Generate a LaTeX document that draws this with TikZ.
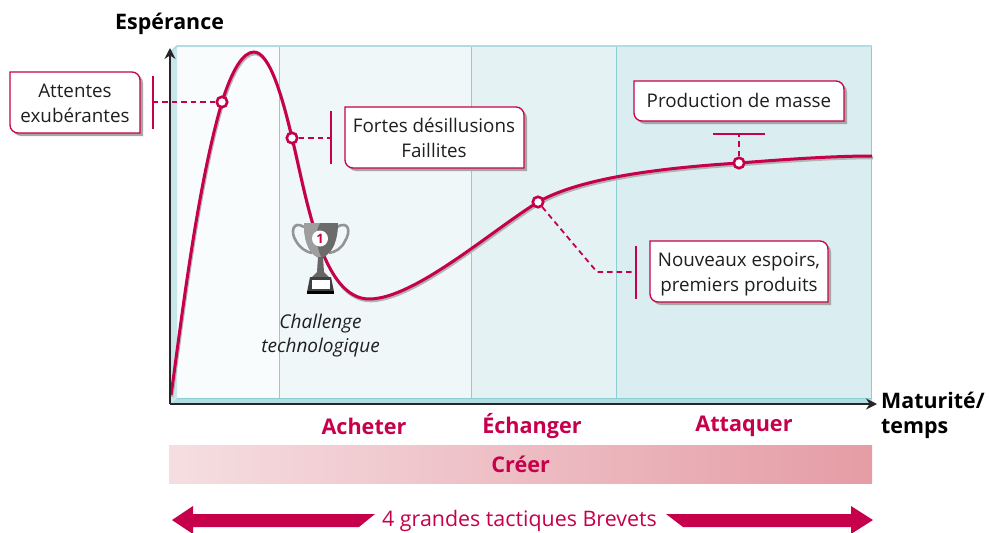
\documentclass[tikz,border=0pt]{standalone}
\usepackage{fontspec}
\setmainfont{Open Sans}
\usetikzlibrary{arrows.meta}
\definecolor{crim}{HTML}{C6004A}
\definecolor{teal1}{HTML}{8ECDD2}
\definecolor{bevL}{HTML}{C9E6EA}
\definecolor{bevB}{HTML}{B2DDE0}
\definecolor{b1}{HTML}{F8FCFD}
\definecolor{b2}{HTML}{EFF7F9}
\definecolor{b3}{HTML}{E4F2F4}
\definecolor{b4}{HTML}{DAEDF0}
\definecolor{gl}{HTML}{F5DEE1}
\definecolor{gr}{HTML}{E59CA5}
\tikzset{
 x=1pt,y=-1pt,
 txt/.style={font=\fontsize{18.8}{24.3}\selectfont,text=black!88,align=center,inner sep=0pt},
 axislabel/.style={font=\fontsize{21.4}{25}\selectfont\bfseries,text=black,align=left,inner sep=0pt},
 tactic/.style={font=\fontsize{21.6}{25}\selectfont\bfseries,text=crim,inner sep=0pt},
 tick/.style={crim,line width=1.8pt},
 leader/.style={crim,line width=1.8pt,dash pattern=on 5.5pt off 4pt},
 dot/.style={circle,draw=crim,fill=white,line width=2.6pt,minimum size=10.5pt,inner sep=0pt},
 axisline/.style={line width=1.5pt,black!85,-{Stealth[length=11pt,width=11pt]}},
 bigarrow/.style={fill=crim,draw=none},
}
\newcommand{\boxshape}[4]{% x1 y1 x2 y2 (asymmetric rounded box)
 \fill[black!35] (#1+3,#2+3) [rounded corners=8pt] -- (#3+3,#2+3) [rounded corners=0pt] -- (#3+3,#4+3) [rounded corners=8pt] -- (#1+3,#4+3) [rounded corners=0pt] -- (#1+3,#2+3) -- cycle;
 \draw[crim,line width=1.3pt,fill=white] (#1,#2) [rounded corners=0pt] -- (#3-8,#2) [rounded corners=8pt] -- (#3,#2) [rounded corners=0pt] -- (#3,#4) [rounded corners=0pt] -- (#1+8,#4) [rounded corners=8pt] -- (#1,#4) [rounded corners=0pt] -- cycle;
}
\begin{document}
\begin{tikzpicture}
\useasboundingbox (0,0) rectangle (989,533);
% bands
\fill[b1] (171,46) rectangle (280,400);
\fill[b2] (280,46) rectangle (472,400);
\fill[b3] (472,46) rectangle (617,400);
\fill[b4] (617,46) rectangle (872,400);
\fill[bevL] (171,52) -- (177,46) -- (177,398) -- (171,404) -- cycle;
\fill[bevB] (171,404) -- (177,398) -- (872,398) -- (872,404) -- cycle;
\draw[teal1,line width=0.8pt] (279.5,46) -- (279.5,398) (471.5,46) -- (471.5,398) (616.5,46) -- (616.5,398);
\draw[teal1,line width=0.8pt] (177,398) -- (871.5,398) -- (871.5,46);
\draw[bevB,line width=1.8pt] (171,52) -- (177,46) -- (872,46);
% curve
\def\curvepath{(171,395) .. controls (179,340) and (196,190) .. (222,102)
 .. controls (232,70) and (243,52) .. (254,52)
 .. controls (270,52) and (283,100) .. (292,138)
 .. controls (307,200) and (322,300) .. (370,299)
 .. controls (415,298) and (490,232) .. (538,202)
 .. controls (580,178) and (660,168) .. (739,163)
 .. controls (790,159) and (835,156) .. (872,156)}
\draw[black!30,line width=2.6pt] [shift={(1,2)}] \curvepath;
\draw[crim,line width=3pt] \curvepath;
% axes
\coordinate (org) at (170,404);
\coordinate (ytop) at (170,48);
\coordinate (xend) at (877,404);
\draw[axisline] (org) -- (ytop);
\draw[axisline] (org) -- (xend);
\node[axislabel,anchor=west] (esp) at (115,24) {Espérance};
\node[axislabel,anchor=north west,align=left] (mat) at (881,392) {Maturité/\\temps};
% points
\coordinate (t1) at (153,102);
\coordinate (t2) at (331,138);
\coordinate (t3) at (636,272);
\coordinate (t4) at (739,134);
\coordinate (k3) at (597,272);
\node[dot] (p1) at (222,102) {};
\node[dot] (p2) at (292,138) {};
\node[dot] (p3) at (538,202) {};
\node[dot] (p4) at (739,163) {};
\draw[tick] (153,76) -- (153,129);
\draw[tick] (331,111) -- (331,164);
\draw[tick] (636,246) -- (636,299);
\draw[tick] (713,134) -- (765,134);
\draw[leader] (p1) -- (t1);
\draw[leader] (p2) -- (t2);
\draw[leader] (p3) -- (k3) -- (t3);
\draw[leader] (p4) -- (t4);
% boxes
\boxshape{10}{72}{140}{133}
\node[txt] (a) at (75,103.5) {Attentes\\exubérantes};
\boxshape{345}{107}{524}{168}
\node[txt] (b) at (434,138) {Fortes désillusions\\Faillites};
\boxshape{634}{81}{844}{121}
\node[txt] (c) at (739,100) {Production de masse};
\boxshape{650}{241}{828}{302}
\node[txt] (d) at (739,274.5) {Nouveaux espoirs,\\premiers produits};
% trophy
\draw[black!42,line width=2.6pt] (304,227) .. controls (293,220) and (290,232) .. (296,241) .. controls (300,248) and (306,252) .. (312,253);
\draw[black!42,line width=2.6pt] (337,227) .. controls (349,220) and (351,232) .. (345,241) .. controls (342,248) and (336,252) .. (329,253);
\fill[black!58] (304,223) -- (338,223) .. controls (338,240) and (333,252) .. (324,257) -- (317,257) .. controls (308,252) and (304,240) .. (304,223) -- cycle;
\fill[black!38] (304,223) -- (320,223) .. controls (313,235) and (318,250) .. (321,257) -- (317,257) .. controls (308,252) and (304,240) .. (304,223) -- cycle;
\fill[black!60] (318,257) -- (323,257) -- (324,272) -- (329,277) -- (312,277) -- (317,272) -- cycle;
\fill[black!75] (310,277) -- (331,277) -- (334,292) -- (307,292) -- cycle;
\fill[white] (312,280) rectangle (330,289);
\fill[black] (307,291) rectangle (334,294);
\node[circle,fill=white,inner sep=0pt,minimum size=16pt,font=\fontsize{13}{13}\selectfont\bfseries,text=crim] (one) at (320,238.5) {1};
\node[txt,font=\fontsize{19}{24.3}\selectfont\itshape] (chal) at (320.5,335.5) {Challenge\\technologique};
% tactics
\node[tactic] (ach) at (364,426) {Acheter};
\node[tactic] (ech) at (532,426) {Échanger};
\node[tactic] (att) at (744,426) {Attaquer};
% bar
\node[left color=gl,right color=gr,minimum width=703pt,minimum height=38pt,inner sep=0pt,anchor=north west,tactic] (cre) at (169,445) {Créer};
% arrows
\node[font=\fontsize{21.4}{25}\selectfont,text=crim,inner sep=0pt] (tac) at (519.5,521) {4 grandes tactiques Brevets};
\fill[bigarrow] (172,520) -- (193,506) -- (193,514) -- (375,514) -- (359,527) -- (193,527) -- (193,534) -- cycle;
\fill[bigarrow] (873,520) -- (851,506) -- (851,514) -- (666,514) -- (683,527) -- (851,527) -- (851,534) -- cycle;
\end{tikzpicture}
\end{document}
